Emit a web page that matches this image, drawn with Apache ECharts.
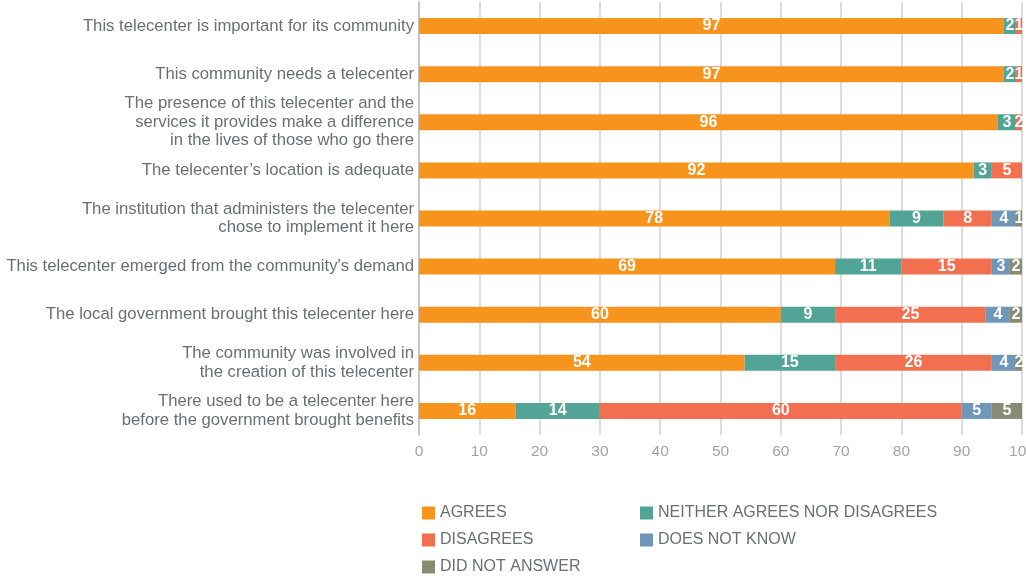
<!DOCTYPE html>
<html><head><meta charset="utf-8">
<script src="https://cdn.jsdelivr.net/npm/echarts@6/dist/echarts.min.js"></script>
<style>html,body{margin:0;padding:0;background:#fff}#c{width:1026px;height:576px}</style>
</head><body><div id="c"></div>
<script>
const categories = [
  "This telecenter is important for its community",
  "This community needs a telecenter",
  "The presence of this telecenter and the\nservices it provides make a difference\nin the lives of those who go there",
  "The telecenter\u2019s location is adequate",
  "The institution that administers the telecenter\nchose to implement it here",
  "This telecenter emerged from the community's demand",
  "The local government brought this telecenter here",
  "The community was involved in\nthe creation of this telecenter",
  "There used to be a telecenter here\nbefore the government brought benefits"
];
const seriesNames = ["AGREES","NEITHER AGREES NOR DISAGREES","DISAGREES","DOES NOT KNOW","DID NOT ANSWER"];
const agrees      = [97, 97, 96, 92, 78, 69, 60, 54, 16];
const neither     = [2, 2, 3, 3, 9, 11, 9, 15, 14];
const disagrees   = [1, 1, 2, 5, 8, 15, 25, 26, 60];
const doesNotKnow = [null, null, null, null, 4, 3, 4, 4, 5];
const noAnswer    = [null, null, null, null, 1, 2, 2, 2, 5];
const xTicks = [0,10,20,30,40,50,60,70,80,90,100];

const colors = ["#F7941D","#52A596","#F26F50","#6E97B8","#898A72"];
const values = [agrees, neither, disagrees, doesNotKnow, noAnswer];
const font = "'Liberation Sans', Arial, sans-serif";

// legend placement: [left, top] for each series
const legendPos = [[422, 505], [640, 505], [422, 532], [640, 532], [422, 559]];

const chart = echarts.init(document.getElementById('c'));
chart.setOption({
  animation: false,
  color: colors,
  textStyle: {fontFamily: font},
  grid: {left: 419, right: 4, top: 2, bottom: 141, containLabel: false, outerBoundsMode: 'none'},
  xAxis: {
    type: 'value', min: 0, max: 100, interval: 10,
    axisLine: {show: false}, axisTick: {show: false},
    splitLine: {lineStyle: {color: '#d0d0d0', width: 1.5}},
    axisLabel: {color: '#a3a3a3', fontSize: 15.5, margin: 9, fontFamily: font,
      formatter: v => xTicks.includes(v) ? String(v) : ''}
  },
  yAxis: {
    type: 'category', data: categories, inverse: true,
    axisLine: {show: true, lineStyle: {color: '#bdbdbd', width: 1.5}},
    axisTick: {show: false},
    axisLabel: {color: '#6d6e71', fontSize: 16.7, lineHeight: 18.5, align: 'right', margin: 5, fontFamily: font}
  },
  legend: seriesNames.map((n, i) => ({
    data: [n], orient: 'horizontal', left: legendPos[i][0], top: legendPos[i][1], padding: 0,
    itemWidth: 13, itemHeight: 13, itemGap: 6, icon: 'rect', selectedMode: false,
    textStyle: {color: '#6d6e71', fontSize: 16, fontFamily: font}
  })),
  series: seriesNames.map((n, i) => ({
    name: n, type: 'bar', stack: 'total', data: values[i], barWidth: 16,
    itemStyle: {color: colors[i]},
    label: {show: true, position: 'inside', color: '#fff', fontSize: 16, fontWeight: 'bold', fontFamily: font,
      formatter: p => p.value == null ? '' : String(p.value)}
  }))
});
</script></body></html>
